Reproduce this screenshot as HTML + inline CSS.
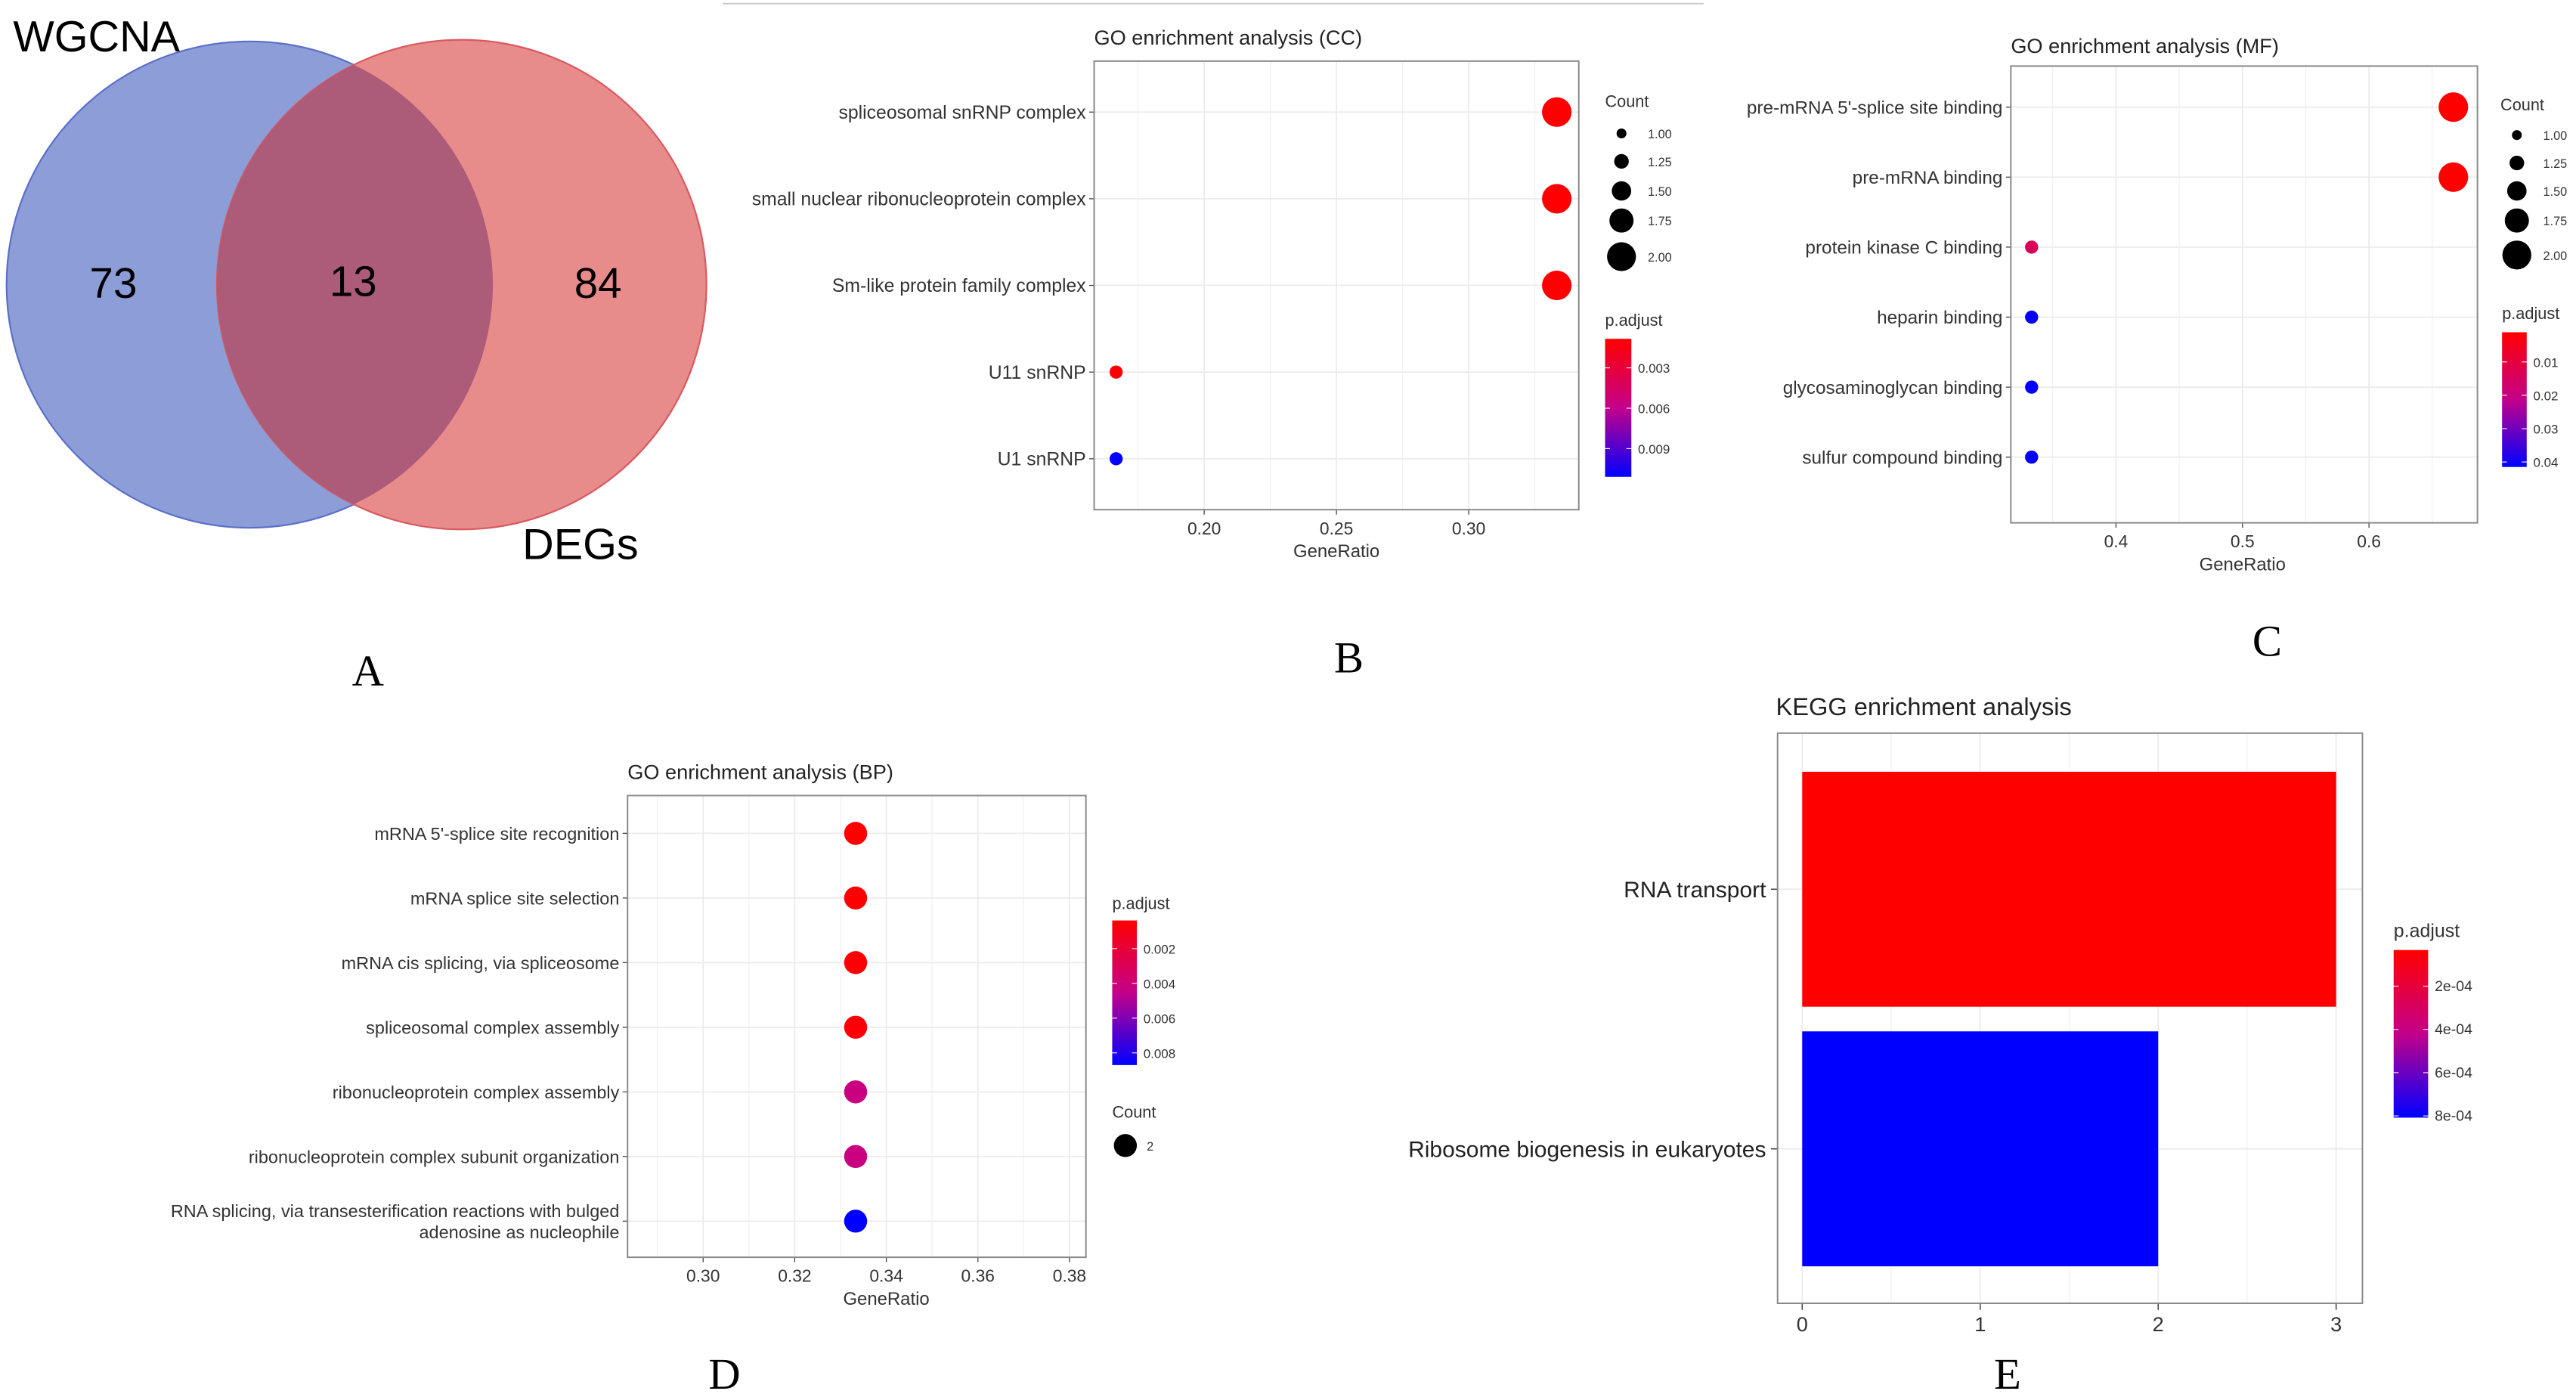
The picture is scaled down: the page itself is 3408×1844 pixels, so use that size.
<!DOCTYPE html>
<html><head><meta charset="utf-8"><style>
html,body{margin:0;padding:0;background:#fff}
svg{display:block;font-family:"Liberation Sans",sans-serif}
</style></head><body>
<svg id="fig" width="3408" height="1844" viewBox="0 0 1568 848" xmlns="http://www.w3.org/2000/svg">
<rect width="1568" height="848" fill="#fff"/>
<line x1="440" y1="2" x2="1037" y2="2" stroke="#ccc" stroke-width="1"/>
<defs><clipPath id="blueClip"><circle cx="152" cy="173" r="148"/></clipPath></defs>
<g>
<circle cx="152" cy="173" r="148" fill="#8c9dd8" stroke="#5a6fc8" stroke-width="1"/>
<circle cx="281" cy="173" r="149" fill="#e88b8b" stroke="#d9595f" stroke-width="1"/>
<circle cx="281" cy="173" r="149" fill="#ac5b78" clip-path="url(#blueClip)"/>
<text x="8" y="31" font-size="26.5">WGCNA</text>
<text x="69" y="181" font-size="26" text-anchor="middle">73</text>
<text x="215" y="180" font-size="26" text-anchor="middle">13</text>
<text x="364" y="181" font-size="26" text-anchor="middle">84</text>
<text x="318" y="340" font-size="26.5">DEGs</text>
</g>
<g font-family="Liberation Serif, serif" font-size="27">
<text x="224" y="417" text-anchor="middle">A</text>
<text x="821" y="409" text-anchor="middle">B</text>
<text x="1380" y="399" text-anchor="middle">C</text>
<text x="441" y="845" text-anchor="middle">D</text>
<text x="1222" y="845" text-anchor="middle">E</text>
</g>
<defs>
<linearGradient id="gradV" x1="0" y1="0" x2="0" y2="1"><stop offset="0" stop-color="#ff0000"/><stop offset="0.5" stop-color="#c4008a"/><stop offset="1" stop-color="#0000ff"/></linearGradient>
</defs>
</svg>
<script>
// ---- Panel B (CC) data ----
const ccTerms = ["spliceosomal snRNP complex","small nuclear ribonucleoprotein complex","Sm-like protein family complex","U11 snRNP","U1 snRNP"];
const ccRatio = [0.3333,0.3333,0.3333,0.1667,0.1667];
const ccCount = [2,2,2,1,1];
const ccPadj = [0.0009,0.0009,0.0009,0.001,0.011];
const ccTicks = [0.20,0.25,0.30];
const ccTickLabels = ["0.20","0.25","0.30"];
const ccPadjTicks = [0.003,0.006,0.009];
const ccPadjLabels = ["0.003","0.006","0.009"];
const ccCountLegend = [1.00,1.25,1.50,1.75,2.00];
const ccCountLabels = ["1.00","1.25","1.50","1.75","2.00"];
// ---- Panel C (MF) data ----
const mfTerms = ["pre-mRNA 5'-splice site binding","pre-mRNA binding","protein kinase C binding","heparin binding","glycosaminoglycan binding","sulfur compound binding"];
const mfRatio = [0.6667,0.6667,0.3333,0.3333,0.3333,0.3333];
const mfCount = [2,2,1,1,1,1];
const mfPadj = [0.0012,0.0012,0.014,0.041,0.041,0.041];
const mfTicks = [0.4,0.5,0.6];
const mfTickLabels = ["0.4","0.5","0.6"];
const mfPadjTicks = [0.01,0.02,0.03,0.04];
const mfPadjLabels = ["0.01","0.02","0.03","0.04"];
const mfCountLegend = [1.00,1.25,1.50,1.75,2.00];
const mfCountLabels = ["1.00","1.25","1.50","1.75","2.00"];
// ---- Panel D (BP) data ----
const bpTerms = ["mRNA 5'-splice site recognition","mRNA splice site selection","mRNA cis splicing, via spliceosome","spliceosomal complex assembly","ribonucleoprotein complex assembly","ribonucleoprotein complex subunit organization","RNA splicing, via transesterification reactions with bulged|adenosine as nucleophile"];
const bpRatio = [0.3333,0.3333,0.3333,0.3333,0.3333,0.3333,0.3333];
const bpCount = [2,2,2,2,2,2,2];
const bpPadj = [0.0004,0.0004,0.0005,0.0006,0.0042,0.0042,0.0087];
const bpTicks = [0.30,0.32,0.34,0.36,0.38];
const bpTickLabels = ["0.30","0.32","0.34","0.36","0.38"];
const bpPadjTicks = [0.002,0.004,0.006,0.008];
const bpPadjLabels = ["0.002","0.004","0.006","0.008"];
// ---- Panel E (KEGG) data ----
const keggTerms = ["RNA transport","Ribosome biogenesis in eukaryotes"];
const keggCount = [3,2];
const keggPadj = [0.000035,0.00081];
const keggTicks = [0,1,2,3];
const keggTickLabels = ["0","1","2","3"];
const keggPadjTicks = [0.0002,0.0004,0.0006,0.0008];
const keggPadjLabels = ["2e-04","4e-04","6e-04","8e-04"];

const NS="http://www.w3.org/2000/svg";
const svg=document.getElementById('fig');
function mk(tag,attrs,parent){const e=document.createElementNS(NS,tag);for(const k in attrs)e.setAttribute(k,attrs[k]);(parent||svg).appendChild(e);return e;}
function colorFor(p,lo,hi){let t=(p-lo)/(hi-lo);t=Math.max(0,Math.min(1,t));
  let r,g,b; if(t<0.5){const u=t/0.5;r=255+(196-255)*u;g=0;b=0+138*u;}else{const u=(t-0.5)/0.5;r=196*(1-u);g=0;b=138+(255-138)*u;}
  return `rgb(${Math.round(r)},${Math.round(g)},${Math.round(b)})`;}
function linear(d0,d1,r0,r1){return v=>r0+(v-d0)/(d1-d0)*(r1-r0);}

function dotPanel(cfg){
  const g=mk('g',{});
  
  
  const {L,R,T,B}=cfg;
  const x=linear(cfg.xd[0],cfg.xd[1],cfg.xr[0],cfg.xr[1]);
  const n=cfg.terms.length;
  const y=i=>cfg.yr[0]+i*(cfg.yr[1]-cfg.yr[0])/(n-1);
  const title=mk('text',{x:L,y:cfg.titleY,'font-size':cfg.titleSize||12.5,fill:'#222'},g);title.textContent=cfg.title;
  
  
  for(let i=0;i<cfg.ticks.length-1;i++){const xm=(x(cfg.ticks[i])+x(cfg.ticks[i+1]))/2;mk('line',{x1:xm,x2:xm,y1:T,y2:B,stroke:'#f2f2f2','stroke-width':0.6},g);}
  const first=x(cfg.ticks[0])-(x(cfg.ticks[1])-x(cfg.ticks[0]))/2; if(first>L)mk('line',{x1:first,x2:first,y1:T,y2:B,stroke:'#f2f2f2','stroke-width':0.6},g);
  const last=x(cfg.ticks[cfg.ticks.length-1])+(x(cfg.ticks[1])-x(cfg.ticks[0]))/2; if(last<R)mk('line',{x1:last,x2:last,y1:T,y2:B,stroke:'#f2f2f2','stroke-width':0.6},g);
  cfg.ticks.forEach((t,i)=>{const xx=x(t);mk('line',{x1:xx,x2:xx,y1:T,y2:B,stroke:'#ebebeb','stroke-width':0.8},g);
    mk('line',{x1:xx,x2:xx,y1:B,y2:B+3,stroke:'#444','stroke-width':0.6},g);
    const tl=mk('text',{x:xx,y:B+15,'font-size':10.5,'text-anchor':'middle',fill:'#333'},g);tl.textContent=cfg.tickLabels[i];
    
    });
  cfg.terms.forEach((term,i)=>{const yy=y(i);mk('line',{x1:L,x2:R,y1:yy,y2:yy,stroke:'#ebebeb','stroke-width':0.8},g);
    mk('line',{x1:L-3,x2:L,y1:yy,y2:yy,stroke:'#444','stroke-width':0.6},g);
    const parts=term.split('|');
    parts.forEach((p,k)=>{const tt=mk('text',{x:L-5,y:yy+4+(k-(parts.length-1)/2)*13,'font-size':cfg.labelSize||10.5,'text-anchor':'end',fill:'#333'},g);tt.textContent=p;
      
      });
  });
  mk('rect',{x:L,y:T,width:R-L,height:B-T,fill:'none',stroke:'#888','stroke-width':0.9},g);
  cfg.terms.forEach((term,i)=>{const c=mk('circle',{cx:x(cfg.ratio[i]),cy:y(i),r:cfg.rad(cfg.count[i]),fill:colorFor(cfg.padj[i],cfg.pd[0],cfg.pd[1])},g);
    
    });
  const xt=mk('text',{x:(x(cfg.ticks[0])+x(cfg.ticks[cfg.ticks.length-1]))/2+(cfg.xtOff||0),y:B+29,'font-size':11,'text-anchor':'middle',fill:'#333'},g);xt.textContent='GeneRatio';
  
  
  return g;
}
function colorbar(g,cx,cy,w,top,bot,pd,ticks,labels,titleY,size){
  const t=mk('text',{x:cx,y:titleY,'font-size':size||10,fill:'#333'},g);t.textContent='p.adjust';
  
  
  const r=mk('rect',{x:cx,y:top,width:w,height:bot-top,fill:'url(#gradV)'},g);
  
  
  const yv=linear(pd[0],pd[1],top,bot);
  ticks.forEach((v,i)=>{const yy=yv(v);mk('line',{x1:cx,x2:cx+3,y1:yy,y2:yy,stroke:'#fff','stroke-width':0.5},g);mk('line',{x1:cx+w-3,x2:cx+w,y1:yy,y2:yy,stroke:'#fff','stroke-width':0.5},g);
    const l=mk('text',{x:cx+w+4,y:yy+3,'font-size':(size||10)*0.78,fill:'#333'},g);l.textContent=labels[i];
    
    });
}
function sizeLegend(g,x0,titleY,ys,vals,labels,rad){
  const t=mk('text',{x:x0-10,y:titleY,'font-size':10,fill:'#333'},g);t.textContent='Count';
  
  
  vals.forEach((v,i)=>{const c=mk('circle',{cx:x0,cy:ys[i],r:rad(v),fill:'#000'},g);
    
    
    const l=mk('text',{x:x0+16,y:ys[i]+3,'font-size':7.5,fill:'#333'},g);l.textContent=labels[i];
    
    });
}
const radB=c=>3+(c-1)*5.8;
// Panel B
const gB=dotPanel({name:'go-cc-dotplot',title:'GO enrichment analysis (CC)',titleY:27,L:666,R:961,T:37,B:310,xd:[0.20,0.30],xr:[733,894],yr:[68,279],labelSize:11.4,
  terms:ccTerms,ratio:ccRatio,count:ccCount,padj:ccPadj,pd:[0.00084,0.0111],ticks:ccTicks,tickLabels:ccTickLabels,rad:c=>4+(c-1)*5});
sizeLegend(gB,987,65,[81,98,116,134,156],ccCountLegend,ccCountLabels,radB);
colorbar(gB,977,206,16,206,290,[0.00084,0.0111],ccPadjTicks,ccPadjLabels,198);
// Panel C
const gC=dotPanel({name:'go-mf-dotplot',title:'GO enrichment analysis (MF)',titleY:32,L:1224,R:1508,T:40,B:318,xd:[0.4,0.6],xr:[1288,1442],yr:[65,278],labelSize:11.2,
  terms:mfTerms,ratio:mfRatio,count:mfCount,padj:mfPadj,pd:[0.0011,0.0415],ticks:mfTicks,tickLabels:mfTickLabels,rad:c=>4+(c-1)*5});
sizeLegend(gC,1532,67,[82,99,116,134,155],mfCountLegend,mfCountLabels,radB);
colorbar(gC,1523,202,15,202,284,[0.0011,0.0415],mfPadjTicks,mfPadjLabels,194);
// Panel D
const gD=dotPanel({name:'go-bp-dotplot',title:'GO enrichment analysis (BP)',titleY:474,L:382,R:661,T:484,B:765,xd:[0.30,0.38],xr:[428,651],yr:[507,743],labelSize:10.8,
  terms:bpTerms,ratio:bpRatio,count:bpCount,padj:bpPadj,pd:[0.00038,0.0087],ticks:bpTicks,tickLabels:bpTickLabels,rad:c=>7});
colorbar(gD,677,560,15,560,648,[0.00038,0.0087],bpPadjTicks,bpPadjLabels,553);
{const t=mk('text',{x:677,y:680,'font-size':10,fill:'#333'},gD);t.textContent='Count';
 
 
 const c=mk('circle',{cx:685,cy:697,r:7,fill:'#000'},gD);
 
 
 const l=mk('text',{x:698,y:700,'font-size':7.5,fill:'#333'},gD);l.textContent='2';
 
 }
// Panel E
{
 const g=mk('g',{});
 
 
 const L=1082,R=1438,T=446,B=793;
 const x=linear(0,3,1097,1422);
 const yc=[541,699];const bh=143;
 const t=mk('text',{x:1081,y:435,'font-size':15,fill:'#222'},g);t.textContent='KEGG enrichment analysis';
 
 
 for(let v=0.5;v<3.6;v+=1){const xx=x(v);if(xx<R)mk('line',{x1:xx,x2:xx,y1:T,y2:B,stroke:'#f2f2f2','stroke-width':0.6},g);}
 keggTicks.forEach((v,i)=>{const xx=x(v);mk('line',{x1:xx,x2:xx,y1:T,y2:B,stroke:'#ebebeb','stroke-width':0.8},g);
   mk('line',{x1:xx,x2:xx,y1:B,y2:B+4,stroke:'#444','stroke-width':0.7},g);
   const l=mk('text',{x:xx,y:B+17,'font-size':12.5,'text-anchor':'middle',fill:'#333'},g);l.textContent=keggTickLabels[i];
   
   });
 keggTerms.forEach((term,i)=>{mk('line',{x1:L,x2:R,y1:yc[i],y2:yc[i],stroke:'#ebebeb','stroke-width':0.8},g);
   mk('line',{x1:L-4,x2:L,y1:yc[i],y2:yc[i],stroke:'#444','stroke-width':0.7},g);
   const l=mk('text',{x:L-7,y:yc[i]+5,'font-size':13.8,'text-anchor':'end',fill:'#222'},g);l.textContent=term;
   
   
   const r=mk('rect',{x:x(0),y:yc[i]-bh/2,width:x(keggCount[i])-x(0),height:bh,fill:colorFor(keggPadj[i],0.000033,0.000808)},g);
   
   });
 mk('rect',{x:L,y:T,width:R-L,height:B-T,fill:'none',stroke:'#888','stroke-width':0.9},g);
 colorbar(g,1457,578,21,578,680,[0.000033,0.000808],keggPadjTicks,keggPadjLabels,570,11.5);
}
</script>
</body></html>
